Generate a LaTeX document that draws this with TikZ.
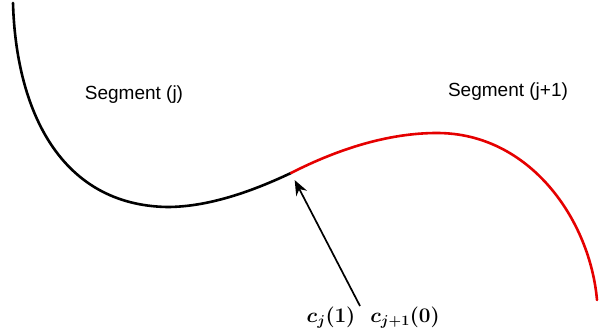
\documentclass[tikz,border=0pt]{standalone}
\usepackage{fontspec}
\usepackage{amsmath}
\newfontfamily\seglabelfont{Liberation Sans}
\usetikzlibrary{arrows.meta}

\begin{document}
\begin{tikzpicture}[
  x=1pt, y=-1pt,
  seg/.style={line width=2.6pt, line cap=round},
  segj/.style={seg, black},
  segk/.style={seg, red!90!black},
  lab/.style={font=\fontsize{19}{22}\selectfont\seglabelfont, inner sep=0pt},
  mlab/.style={font=\fontsize{22}{26}\selectfont\boldmath, inner sep=0pt},
  arr/.style={-{Stealth[length=15pt, width=12pt]}, line width=1.7pt}
]
\useasboundingbox (0,0) rectangle (599,334);

% ---------------- the two segments ----------------
\coordinate (start) at (13,3);
\coordinate (jn) at (291,173);
\coordinate (stop) at (597,300);

\draw[segj] (start) .. controls (16,110) and (60,205) .. (167,207)
                    .. controls (210,207) and (255,190) .. (jn);
\draw[segk] (jn) .. controls (340,148) and (390,133) .. (437,133)
                 .. controls (530,133) and (590,220) .. (stop);

% ---------------- labels ----------------
\node[lab] (segj) at (134,95) {Segment (j)};
\node[lab] (segk) at (508,92) {Segment (j+1)};

\node[mlab] (cj) at (331,318) {$c_j(1)$};
\node[mlab] (ck) at (405,318) {$c_{j+1}(0)$};

% ---------------- pointer to the joint ----------------
\coordinate (tail) at (360,306);
\draw[arr, shorten >=8pt] (tail) -- (jn);

\end{tikzpicture}
\end{document}
